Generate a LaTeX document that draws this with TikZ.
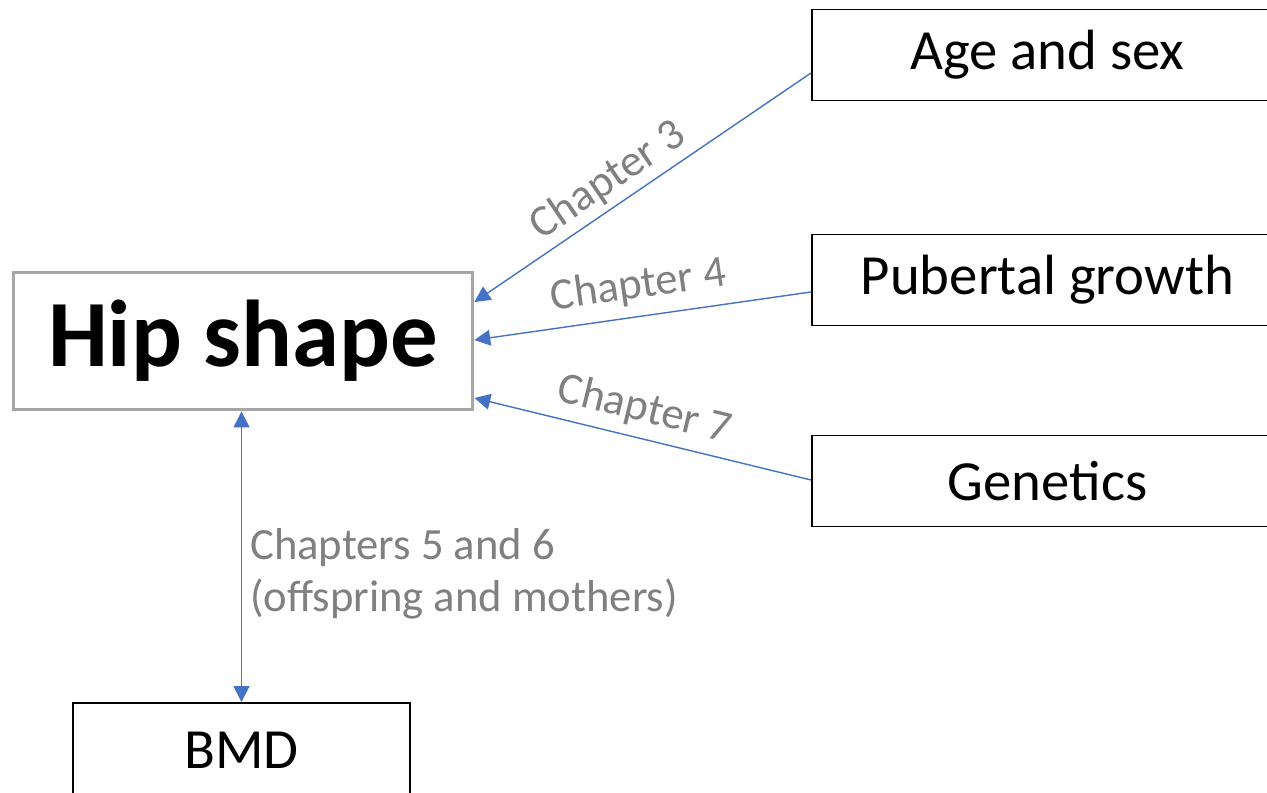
\documentclass[tikz,border=0pt]{standalone}
\usepackage{fontspec}
\setmainfont{Carlito}
\usepackage{tikz}
\usetikzlibrary{arrows.meta}

\definecolor{linkblue}{RGB}{68,114,196}
\definecolor{labelgray}{RGB}{128,128,128}
\definecolor{hipgray}{RGB}{166,166,166}

\begin{document}
\begin{tikzpicture}[x=0.02cm, y=-0.02cm]
            \tikzstyle{factor}=[draw, line width=1.1pt, minimum width=9.56cm, minimum height=1.82cm, inner sep=0pt, font=\fontsize{32.3}{38}\selectfont]
            \tikzstyle{link}=[linkblue, line width=0.8pt, -{Triangle[width=9pt,length=9pt]}]
            \tikzstyle{chap}=[labelgray, font=\fontsize{25.4}{30}\selectfont, inner sep=2pt]

            %%%%%%%%%%%%%%%%%%%%%%%%%%%%%%%%%%%%%%%%
            \clip (0,0) rectangle (1267,793);
            \useasboundingbox (0,0) rectangle (1267,793);

            \node at (243, 341) (hip) [draw=hipgray, line width=1.7pt, minimum width=9.2cm, minimum height=2.76cm, font=\fontsize{54}{62}\selectfont\bfseries] {Hip shape};

            \node at (811, 55) (age) [factor, anchor=west] {\hspace*{-4pt}Age and sex};
            \node at (811, 280) (pub) [factor, anchor=west] {\hspace*{-4pt}Pubertal growth};
            \node at (811, 481) (gen) [factor, anchor=west] {\hspace*{-4pt}Genetics};

            \node at (241.5, 750) (bmd) [factor, minimum width=6.74cm, minimum height=1.88cm] {BMD};

            % arrows from the factors
            \draw[link] ([yshift=-0.36cm]age.west) -- ([yshift=0.78cm]hip.east) node[chap, midway, above=1pt, sloped, xshift=-0.5cm] {Chapter 3};
            \draw[link] ([yshift=-0.24cm]pub.west) -- ([yshift=0.02cm]hip.east) node[chap, midway, above=4pt, sloped] {Chapter 4};
            \draw[link] ([yshift=0.02cm]gen.west) -- ([yshift=-1.14cm]hip.east) node[chap, midway, above=3pt, sloped, xshift=-0.1cm] {Chapter 7};

            \draw[link, {Triangle[width=9pt,length=9pt]}-{Triangle[width=9pt,length=9pt]}] (hip.south -| bmd.north) -- (bmd.north);
            \node at (250, 574) (bmdlabel) [chap, anchor=west, inner sep=0pt, align=left, font=\fontsize{25.4}{29.6}\selectfont] {Chapters 5 and 6\\(offspring and mothers)};
        \end{tikzpicture}
\end{document}
